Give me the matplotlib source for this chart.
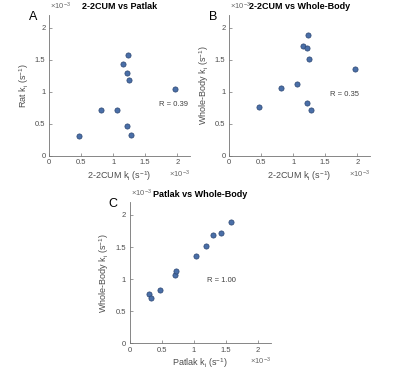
import matplotlib
matplotlib.use("Agg")
from matplotlib import pyplot as plt

plt.rcParams['font.family'] = ['Liberation Sans', 'DejaVu Sans']
plt.rcParams['mathtext.fontset'] = 'custom'
plt.rcParams['mathtext.rm'] = 'Liberation Sans'
plt.rcParams['mathtext.it'] = 'Liberation Sans'

# ki values in units of 1e-3 s^-1
cum_ki = [0.46, 0.81, 1.06, 1.15, 1.21, 1.23, 1.25, 1.22, 1.27, 1.97]
patlak_ki = [0.31, 0.71, 0.72, 1.43, 1.30, 1.58, 1.19, 0.47, 0.33, 1.04]
wb_ki = [0.76, 1.06, 1.12, 1.72, 1.69, 1.89, 1.51, 0.83, 0.71, 1.36]

panels = [
    ('A', '2-2CUM vs Patlak', cum_ki, patlak_ki, '2-2CUM k$_\\mathrm{i}$ (s$^{-1}$)',
     'Rat k$_\\mathrm{i}$ (s$^{-1}$)', 'R = 0.39', (1.71, 0.78)),
    ('B', '2-2CUM vs Whole-Body', cum_ki, wb_ki, '2-2CUM k$_\\mathrm{i}$ (s$^{-1}$)',
     'Whole-Body k$_\\mathrm{i}$ (s$^{-1}$)', 'R = 0.35', (1.57, 0.93)),
    ('C', 'Patlak vs Whole-Body', patlak_ki, wb_ki, 'Patlak k$_\\mathrm{i}$ (s$^{-1}$)',
     'Whole-Body k$_\\mathrm{i}$ (s$^{-1}$)', 'R = 1.00', (1.20, 0.95)),
]
positions = [
    [0.1225, 0.582, 0.353, 0.378],
    [0.5725, 0.582, 0.353, 0.378],
    [0.324, 0.080, 0.353, 0.378],
]

fig = plt.figure(figsize=(4, 3.73), dpi=100)
axis_color = '0.45'
for (letter, title, x, y, xlabel, ylabel, rtext, rpos), pos in zip(panels, positions):
    ax = fig.add_axes(pos)
    ax.scatter(x, y, s=14, color='#4a6fa8', edgecolors='#2b4570', linewidths=0.5, zorder=3)
    ax.set_xlim(0, 2.2)
    ax.set_ylim(0, 2.2)
    ax.set_xticks([0, 0.5, 1, 1.5, 2])
    ax.set_xticklabels(['0', '0.5', '1', '1.5', '2'])
    ax.set_yticks([0, 0.5, 1, 1.5, 2])
    ax.set_yticklabels(['0', '0.5', '1', '1.5', '2'])
    for side in ['top', 'right']:
        ax.spines[side].set_visible(False)
    for side in ['left', 'bottom']:
        ax.spines[side].set_color(axis_color)
        ax.spines[side].set_linewidth(0.6)
    ax.tick_params(direction='in', length=2, width=0.5, color=axis_color,
                   labelsize=5.5, labelcolor='0.3', pad=2.5)
    ax.set_xlabel(xlabel, fontsize=6.5, color='0.3', labelpad=2)
    ax.set_ylabel(ylabel, fontsize=6.5, color='0.3', labelpad=3)
    ax.set_title(title, fontsize=6.5, fontweight='bold', pad=4)
    ax.text(rpos[0], rpos[1], rtext, fontsize=5.5, color='0.25')
    ax.text(0.01, 1.02, '$\\times$10$^{-3}$', transform=ax.transAxes,
            fontsize=5.5, color='0.4', ha='left', va='bottom')
    ax.text(1.0, -0.09, '$\\times$10$^{-3}$', transform=ax.transAxes,
            fontsize=5.5, color='0.4', ha='right', va='top')
    ax.text(-0.085, 0.985, letter, transform=ax.transAxes, fontsize=9,
            ha='right', va='center')

fig.savefig('out.png', dpi=100)
